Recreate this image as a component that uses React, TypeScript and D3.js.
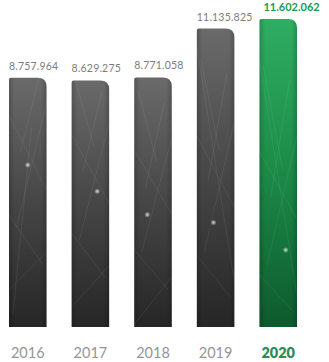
import React from "react";
import * as d3 from "d3";

const years = ["2016", "2017", "2018", "2019", "2020"];
const values = [8757964, 8629275, 8771058, 11135825, 11602062];
const highlightYear = "2020";

const W = 329;
const H = 362;

const ptBR = d3.formatLocale({ decimal: ",", thousands: ".", grouping: [3], currency: ["", ""] });
const fmt = ptBR.format(",d");

function barPath(x: number, y: number, w: number, h: number, rTR: number, rTL: number) {
  return `M${x},${y + h} L${x},${y + rTL} Q${x},${y} ${x + rTL},${y} L${x + w - rTR},${y} Q${x + w},${y} ${x + w},${y + rTR} L${x + w},${y + h} Z`;
}

export default function App() {
  const x = d3.scaleBand<string>().domain(years).range([9, 297]).paddingInner(0.4).paddingOuter(0);
  const y = d3.scaleLinear().domain([-3.3e6, 11.6e6]).range([327, 19]);
  const base = y(-3.3e6);
  const bw = x.bandwidth();

  // texture lines defined as fractions of the bar box
  const texture: [number, number, number, number][] = [
    [0, 0.15, 1, 0.45],
    [1, 0.1, 0.2, 0.6],
    [0, 0.55, 0.9, 0.75],
    [0.3, 0.3, 0.8, 1],
    [0, 0.85, 1, 0.7],
    [0.6, 0.2, 0.1, 0.95],
  ];

  return (
    <svg width={W} height={H} style={{ display: "block", position: "absolute", left: 0, top: 0, background: "#fff" }}>
      <defs>
        <linearGradient id="gGray" x1="0" y1="0" x2="0" y2="1">
          <stop offset="0" stopColor="#6a6a6a" />
          <stop offset="0.5" stopColor="#464646" />
          <stop offset="1" stopColor="#262626" />
        </linearGradient>
        <linearGradient id="gGreen" x1="0" y1="0" x2="0" y2="1">
          <stop offset="0" stopColor="#2fae62" />
          <stop offset="0.5" stopColor="#1b8a47" />
          <stop offset="1" stopColor="#0d5a2d" />
        </linearGradient>
        <linearGradient id="gSide" x1="0" y1="0" x2="1" y2="0">
          <stop offset="0" stopColor="#000" stopOpacity="0.18" />
          <stop offset="0.15" stopColor="#000" stopOpacity="0" />
          <stop offset="0.85" stopColor="#000" stopOpacity="0" />
          <stop offset="1" stopColor="#000" stopOpacity="0.18" />
        </linearGradient>
        <radialGradient id="gGlow">
          <stop offset="0" stopColor="#fff" stopOpacity="0.8" />
          <stop offset="1" stopColor="#fff" stopOpacity="0" />
        </radialGradient>
        {years.map((yr, i) => {
          const x0 = x(yr)!;
          const top = y(values[i]);
          return (
            <clipPath id={`clip${i}`} key={yr}>
              <path d={barPath(x0, top, bw, base - top, 9, 2)} />
            </clipPath>
          );
        })}
      </defs>
      {years.map((yr, i) => {
        const x0 = x(yr)!;
        const top = y(values[i]);
        const h = base - top;
        const hl = yr === highlightYear;
        return (
          <g key={yr}>
            <path d={barPath(x0, top, bw, h, 9, 2)} fill={hl ? "url(#gGreen)" : "url(#gGray)"} />
            <g clipPath={`url(#clip${i})`}>
              <rect x={x0} y={top} width={bw} height={h} fill="url(#gSide)" />
              {texture.map((t, k) => (
                <line
                  key={k}
                  x1={x0 + t[0] * bw}
                  y1={top + ((t[1] + i * 0.07) % 1) * h}
                  x2={x0 + t[2] * bw}
                  y2={top + ((t[3] + i * 0.05) % 1) * h}
                  stroke="#fff"
                  strokeOpacity={0.07}
                  strokeWidth={1}
                />
              ))}
              <circle cx={x0 + bw * (0.5 + 0.2 * Math.sin(i * 2))} cy={top + h * (0.35 + 0.1 * i) % h} r={3} fill="url(#gGlow)" />
            </g>
            {hl ? (
              <text x={x0 + 4} y={top - 8} fill="#1e9a52" fontFamily="Lato, sans-serif" fontSize={11} fontWeight={700}>
                {fmt(values[i])}
              </text>
            ) : (
              <text x={x0} y={top - 8} fill="#7c7c7c" fontFamily="Lato, sans-serif" fontSize={10.5} letterSpacing={0.2}>
                {fmt(values[i])}
              </text>
            )}
            <text
              x={x0 + bw / 2}
              y={358}
              textAnchor="middle"
              fill={hl ? "#2e8b57" : "#959595"}
              fontFamily="Lato, sans-serif"
              fontSize={14.5}
              fontWeight={hl ? 800 : 400}
            >
              {yr}
            </text>
          </g>
        );
      })}
    </svg>
  );
}
